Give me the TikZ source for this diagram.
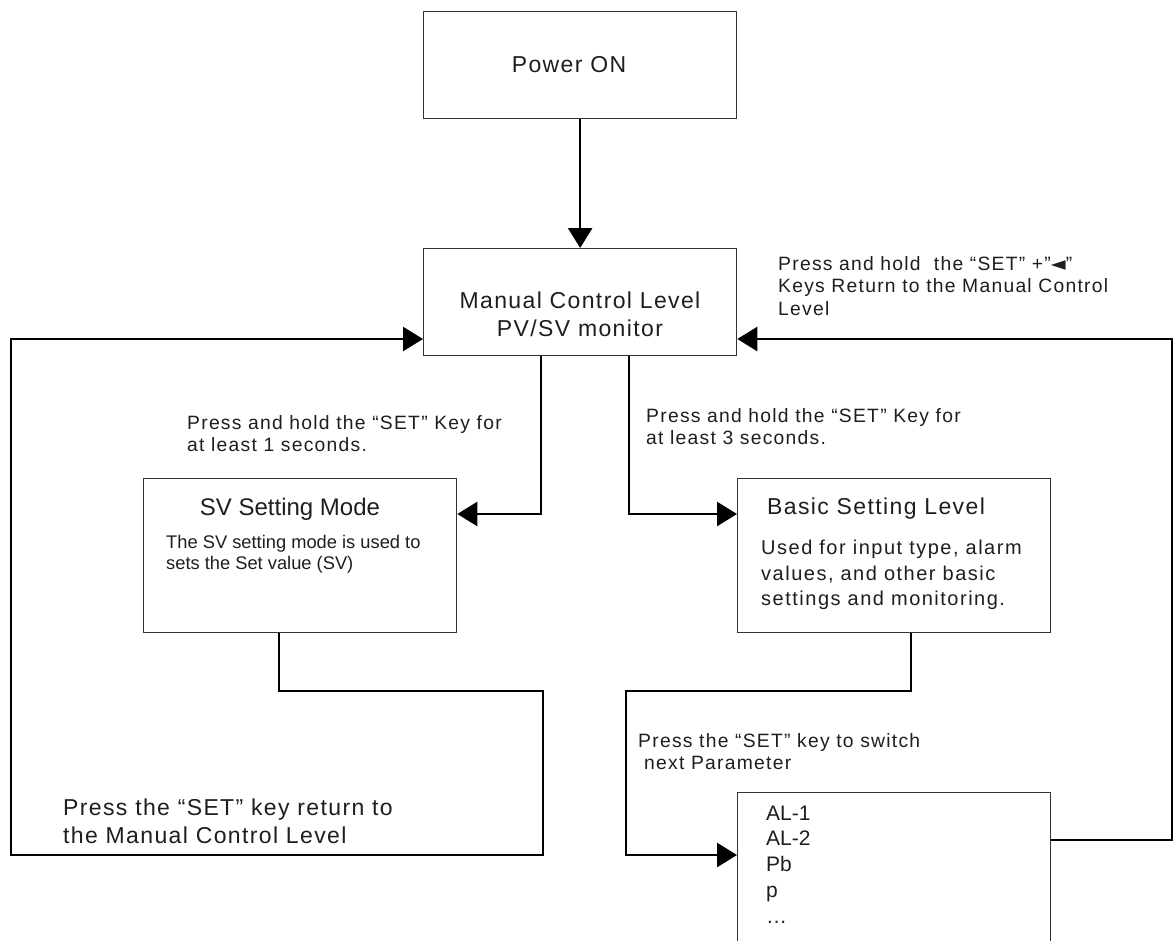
\documentclass[tikz,border=0pt]{standalone}
\usepackage{fontspec}
\setmainfont{Liberation Sans}
\newfontfamily\bigf[LetterSpace=6]{Liberation Sans}
\newfontfamily\smallf[LetterSpace=6.5]{Liberation Sans}
\newfontfamily\midf[LetterSpace=7.5]{Liberation Sans}
\newfontfamily\plainf{Liberation Sans}
\newfontfamily\symf{DejaVu Sans}
\usetikzlibrary{arrows.meta}
\definecolor{txt}{HTML}{1E1E1E}
\definecolor{frame}{HTML}{333333}
\begin{document}
\begin{tikzpicture}[x=1pt,y=-1pt,
  box/.style={draw=frame, line width=1.3pt, minimum width=313pt, inner sep=0pt, anchor=north west},
  conn/.style={line width=2.6pt, draw=black},
  arr/.style={-{Triangle[length=20pt,width=24pt]}},
  bigtxt/.style={font=\bigf\fontsize{23}{28}\selectfont, text=txt, inner sep=0pt},
  smalltxt/.style={font=\smallf\fontsize{19.3}{22.5}\selectfont, text=txt, inner sep=0pt, align=left, anchor=north west},
  svtxt/.style={font=\plainf\fontsize{18.3}{21}\selectfont, text=txt, inner sep=0pt, align=left, anchor=north west},
  midtxt/.style={font=\midf\fontsize{20}{25.5}\selectfont, text=txt, inner sep=0pt, align=left, anchor=north west},
  listtxt/.style={font=\plainf\fontsize{21}{25.8}\selectfont, text=txt, inner sep=0pt, align=left, anchor=north west}]
\useasboundingbox[fill=white] (0,0) rectangle (1174,940);

% boxes
\node[box, minimum height=107pt] (power) at (423,11) {};
\node[box, minimum height=107pt] (manual) at (423,248) {};
\node[box, minimum height=154pt] (sv) at (143,478) {};
\node[box, minimum height=154pt] (basic) at (737,478) {};
\node[box, minimum height=175pt] (param) at (737,792) {};

% texts
\node[bigtxt] (tpower) at (569,65) {Power ON};
\node[bigtxt, align=center, anchor=north] (tmanual) at (580,292) {Manual Control Level\\PV/SV monitor};
\node[smalltxt] (treturn) at (778,256) {Press and hold\ \ the “SET” +”{\symf ◄}”\\Keys Return to the Manual Control\\Level};
\node[smalltxt] (tleft) at (187,415) {Press and hold the “SET” Key for\\at least 1 seconds.};
\node[smalltxt] (tright) at (646,408) {Press and hold the “SET” Key for\\at least 3 seconds.};
\node[font=\plainf\fontsize{24}{28}\selectfont, text=txt, inner sep=0pt, anchor=base] (tsvtitle) at (290,515.5) {SV Setting Mode};
\node[svtxt] (tsvbody) at (166,535.5) {The SV setting mode is used to\\sets the Set value (SV)};
\node[bigtxt, anchor=base west] (tbasictitle) at (767,514) {Basic Setting Level};
\node[midtxt] (tbasicbody) at (761,540) {Used for input type, alarm\\values, and other basic\\settings and monitoring.};
\node[smalltxt] (tswitch) at (638,733) {Press the “SET” key to switch\\\hspace*{6pt}next Parameter};
\node[listtxt] (tparams) at (766,805.5) {AL-1\\AL-2\\Pb\\p\\…};
\node[bigtxt, align=left, anchor=north west] (tbottom) at (63,799) {Press the “SET” key return to\\the Manual Control Level};

% junction coordinates
\coordinate (j1) at (541,514);
\coordinate (j2) at (629,514);
\coordinate (a1) at (279,691);
\coordinate (a2) at (543,691);
\coordinate (a3) at (543,855);
\coordinate (a4) at (11,855);
\coordinate (a5) at (11,339);
\coordinate (b1) at (911,691);
\coordinate (b2) at (626,691);
\coordinate (b3) at (626,855);
\coordinate (r1) at (1172,840);
\coordinate (r2) at (1172,339);

% connectors
\draw[conn, arr] (power.south) -- (manual.north);
\draw[conn, arr] (manual.south -| j1) -- (j1) -- (sv.east |- j1);
\draw[conn, arr] (manual.south -| j2) -- (j2) -- (basic.west |- j2);
\draw[conn, arr] (sv.south -| a1) -- (a1) -- (a2) -- (a3) -- (a4) -- (a5) -- (manual.west |- a5);
\draw[conn, arr] (basic.south -| b1) -- (b1) -- (b2) -- (b3) -- (param.west |- b3);
\draw[conn, arr] (param.east |- r1) -- (r1) -- (r2) -- (manual.east |- r2);
\end{tikzpicture}
\end{document}
